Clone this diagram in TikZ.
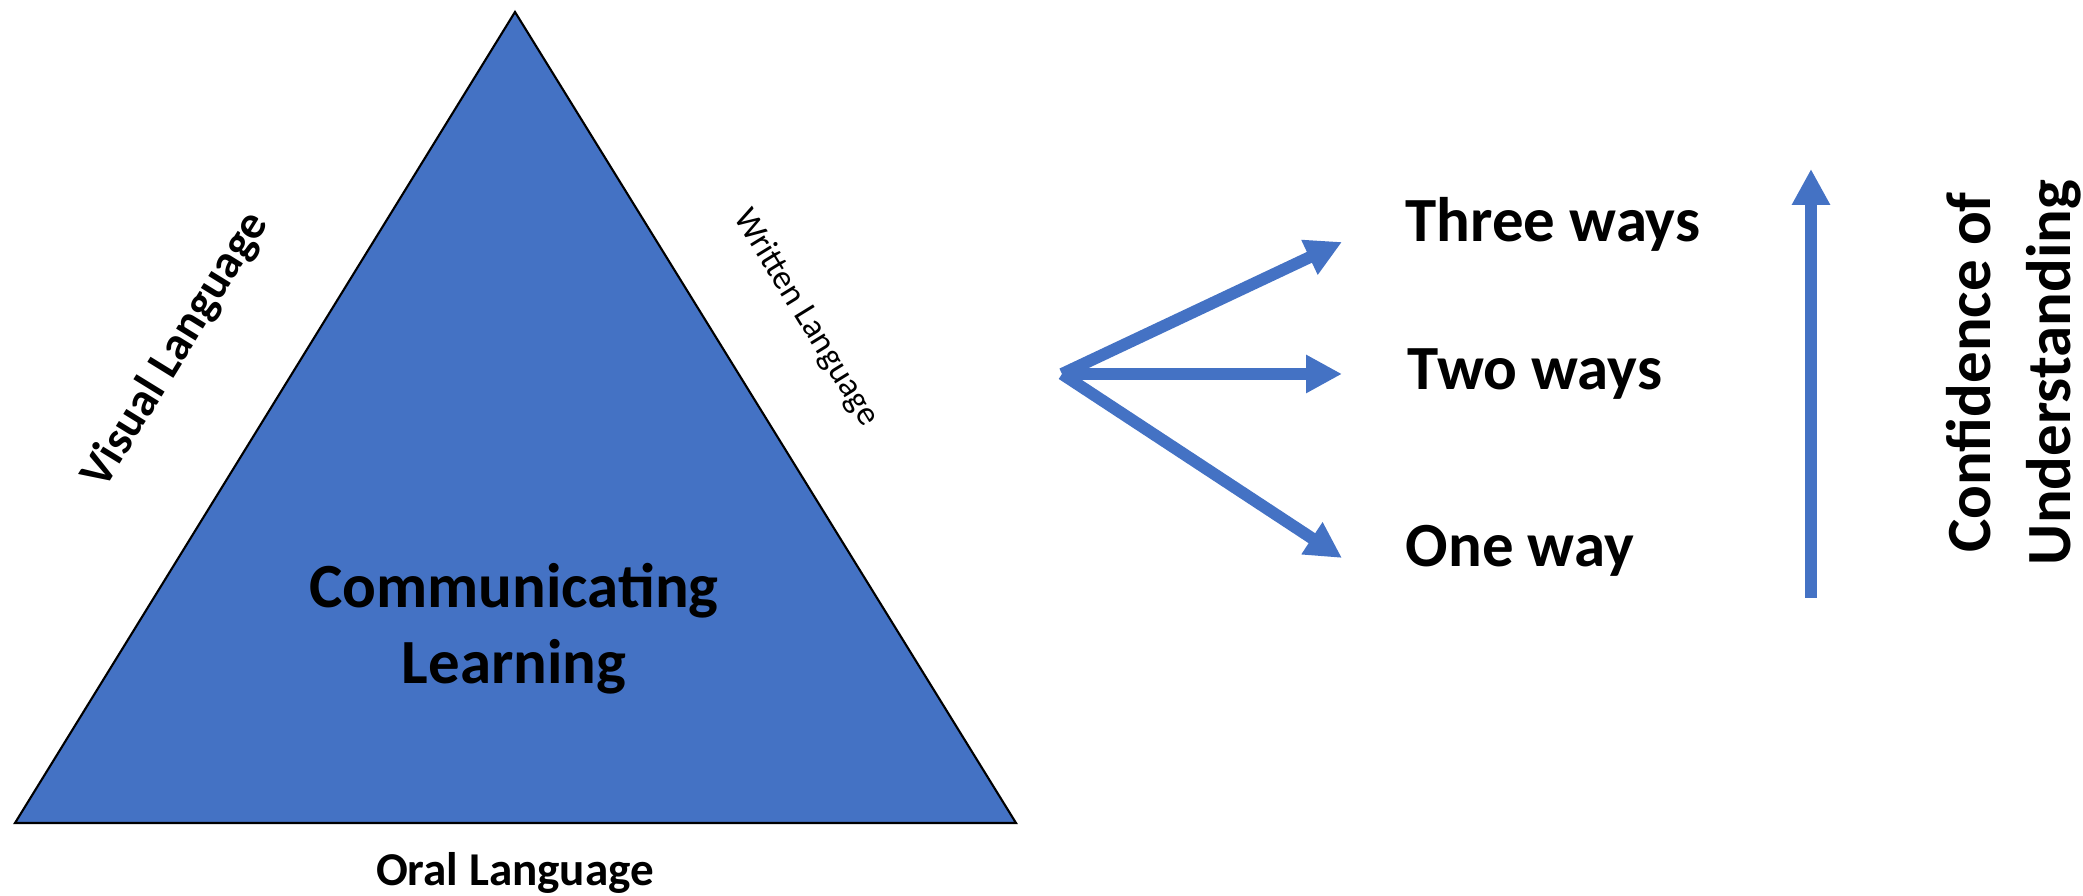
\documentclass[tikz,border=0pt]{standalone}
\usepackage{fontspec}
\setmainfont{Carlito}
\usetikzlibrary{arrows.meta}
\definecolor{triblue}{HTML}{4472C4}

\begin{document}
\begin{tikzpicture}[
    bigtext/.style={font=\fontsize{17.9}{21.6}\selectfont\bfseries},
    sidetext/.style={font=\fontsize{13.4}{16}\selectfont\bfseries},
    waytext/.style={bigtext, anchor=base west, inner sep=0pt},
    wayarrow/.style={-{Triangle[length=3.6mm, width=3.6mm]}, line width=3.4pt, triblue}
]
\useasboundingbox (0,0) rectangle (20.83,8.96);
% triangle
\coordinate (apex) at (5.15,8.84);
\coordinate (left) at (0.15,0.73);
\coordinate (right) at (10.16,0.73);
\draw[fill=triblue, line width=0.6pt] (apex) -- (left) -- (right) -- cycle;
\node[bigtext, align=center] (learn) at (5.14,2.675) {Communicating\\Learning};
\node[sidetext, rotate=58.35] (visual) at (1.76,5.46) {Visual Language};
\node[font=\fontsize{9.8}{12}\selectfont, rotate=-58.35] (written) at (8.06,5.78) {Written Language};
\node[sidetext, anchor=base] (oral) at (5.15,0.10) {Oral Language};
% ways
\coordinate (fork) at (10.62,5.22);
\coordinate (tip3) at (13.42,6.54);
\coordinate (tip2) at (13.42,5.22);
\coordinate (tip1) at (13.42,3.38);
\draw[wayarrow] (fork) -- (tip3);
\draw[wayarrow] (fork) -- (tip2);
\draw[wayarrow] (fork) -- (tip1);
\node[waytext] (three) at (14.05,6.54) {Three ways};
\node[waytext] (two) at (14.07,5.06) {Two ways};
\node[waytext] (one) at (14.05,3.29) {One way};
% confidence
\coordinate (low) at (18.11,2.98);
\coordinate (high) at (18.11,7.27);
\draw[wayarrow] (low) -- (high);
\node[font=\fontsize{17.9}{22.8}\selectfont\bfseries, align=center, rotate=90] (conf) at (20.135,5.235) {Confidence of\\Understanding};
\end{tikzpicture}
\end{document}
